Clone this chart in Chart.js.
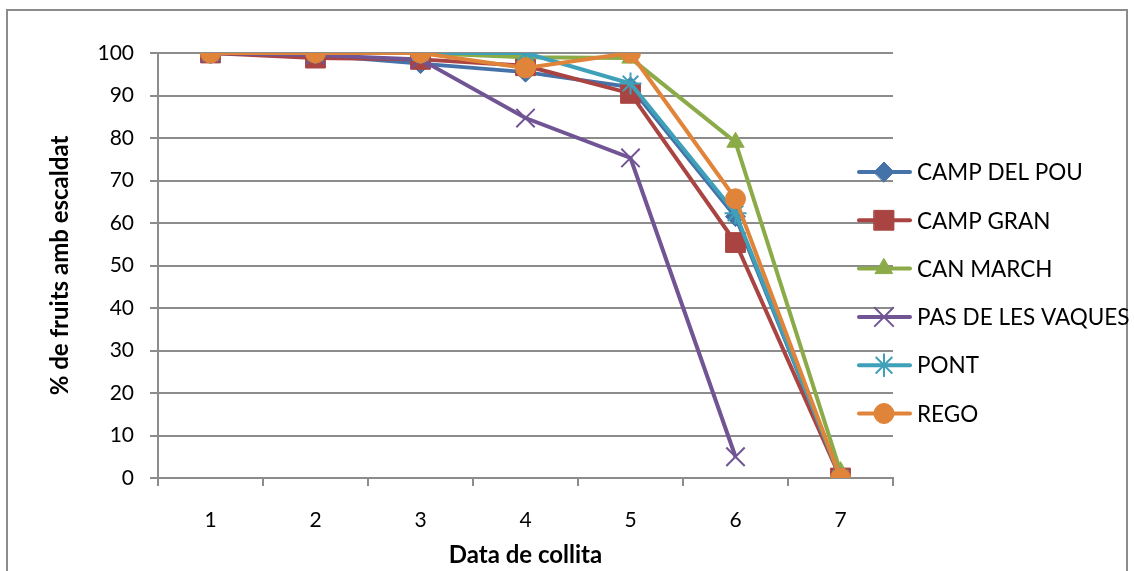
<!DOCTYPE html>
<html>
<head>
<meta charset="utf-8">
<script src="https://cdn.jsdelivr.net/npm/chart.js@4/dist/chart.umd.min.js"></script>
<style>
  html, body { margin: 0; padding: 0; background: #fff; }
  #wrap { width: 1134px; height: 571px; position: relative; }
</style>
</head>
<body>
<div id="wrap"><canvas id="c" width="1134" height="571"></canvas></div>
<script>
// Harvest dates (x categories)
const harvestDates = ['1', '2', '3', '4', '5', '6', '7'];

// % of fruits with scald, per plot
const campDelPou     = [100, 99.5, 97.5, 95.5, 92, 61.5, 0];
const campGran       = [100, 98.8, 98.5, 97, 90.5, 55.4, 0];
const canMarch       = [100, 100, 100, 99, 98.8, 79, 1.5];
const pasDeLesVaques = [100, 99.5, 98.5, 84.7, 75.3, 5, null];
const pont           = [100, 100, 100, 100, 92.8, 62.3, 0];
const rego           = [100, 100, 100, 96.5, 100, 65.7, 0];

const seriesNames = ['CAMP DEL POU', 'CAMP GRAN', 'CAN MARCH', 'PAS DE LES VAQUES', 'PONT', 'REGO'];
const yTicks = [0, 10, 20, 30, 40, 50, 60, 70, 80, 90, 100];

const seriesValues = [campDelPou, campGran, canMarch, pasDeLesVaques, pont, rego];
const colors = ['#4572a8', '#a94442', '#8aab47', '#705494', '#3fa0b9', '#e0843a'];
const styles = [
  { pointStyle: 'rectRot',  radius: 10, borderWidth: 1 },
  { pointStyle: 'rect',     radius: 14, borderWidth: 1 },
  { pointStyle: 'triangle', radius: 10, borderWidth: 1 },
  { pointStyle: 'crossRot', radius: 13, borderWidth: 2 },
  { pointStyle: 'star',     radius: 11, borderWidth: 2 },
  { pointStyle: 'circle',   radius: 10, borderWidth: 1 }
];

const FONT = 'Lato, "Open Sans", sans-serif';

const datasets = seriesNames.map((name, i) => ({
  label: name,
  data: seriesValues[i],
  borderColor: colors[i],
  backgroundColor: colors[i],
  borderWidth: 4,
  pointStyle: styles[i].pointStyle,
  pointRadius: styles[i].radius,
  pointHoverRadius: styles[i].radius,
  pointBorderWidth: styles[i].borderWidth,
  pointBorderColor: colors[i],
  pointBackgroundColor: colors[i],
  tension: 0,
  order: seriesNames.length - i
}));

// Outer frame and the legend on the right
const framePlugin = {
  id: 'frame',
  beforeDraw(chart) {
    const ctx = chart.ctx;
    ctx.save();
    ctx.fillStyle = '#fff';
    ctx.fillRect(0, 0, chart.width, chart.height);
    ctx.strokeStyle = '#8c8c8c';
    ctx.lineWidth = 2;
    ctx.strokeRect(7, 10, 1120, 600);
    ctx.restore();
  },
  afterDraw(chart) {
    const ctx = chart.ctx;
    ctx.save();
    chart.data.datasets.forEach((ds, i) => {
      const y = 172 + i * 48.3;
      ctx.strokeStyle = ds.borderColor;
      ctx.lineWidth = 4;
      ctx.lineCap = 'round';
      ctx.beginPath();
      ctx.moveTo(859, y);
      ctx.lineTo(910, y);
      ctx.stroke();
      ctx.fillStyle = ds.backgroundColor;
      ctx.strokeStyle = ds.borderColor;
      ctx.lineWidth = ds.pointBorderWidth;
      Chart.helpers.drawPoint(ctx, {
        pointStyle: ds.pointStyle,
        radius: ds.pointRadius,
        borderWidth: ds.pointBorderWidth,
        rotation: 0
      }, 884, y);
      ctx.fillStyle = '#000';
      ctx.font = '22.5px ' + FONT;
      ctx.textBaseline = 'middle';
      ctx.textAlign = 'left';
      ctx.fillText(ds.label, 917, y + 1);
    });
    ctx.restore();
  }
};

new Chart(document.getElementById('c'), {
  type: 'line',
  data: { labels: harvestDates, datasets },
  options: {
    responsive: false,
    animation: false,
    events: [],
    layout: { padding: { top: 53, right: 241, left: 0, bottom: 0 } },
    plugins: { legend: { display: false }, tooltip: { enabled: false } },
    scales: {
      x: {
        offset: true,
        grid: {
          offset: true,
          drawOnChartArea: false,
          drawTicks: true,
          tickLength: 8,
          color: '#8c8c8c',
          lineWidth: 2
        },
        border: { display: true, color: '#8c8c8c', width: 2 },
        ticks: { color: '#000', font: { family: FONT, size: 21 }, padding: 22 },
        title: {
          display: true,
          text: 'Data de collita',
          color: '#000',
          font: { family: FONT, size: 24, weight: 'bold' },
          padding: { top: 0, bottom: 1 }
        },
        afterFit(scale) { scale.height = 93; }
      },
      y: {
        min: 0,
        max: 100,
        afterBuildTicks(scale) { scale.ticks = yTicks.map(v => ({ value: v })); },
        grid: {
          color: '#8c8c8c',
          lineWidth: 2,
          drawTicks: true,
          tickLength: 8
        },
        border: { display: true, color: '#8c8c8c', width: 2 },
        ticks: { color: '#000', font: { family: FONT, size: 21 }, padding: 16 },
        title: {
          display: true,
          text: '% de fruits amb escaldat',
          color: '#000',
          font: { family: FONT, size: 24, weight: 'bold' },
          padding: { top: 46, bottom: 0 }
        },
        afterFit(scale) { scale.width = 158; }
      }
    }
  },
  plugins: [framePlugin]
});
</script>
</body>
</html>
